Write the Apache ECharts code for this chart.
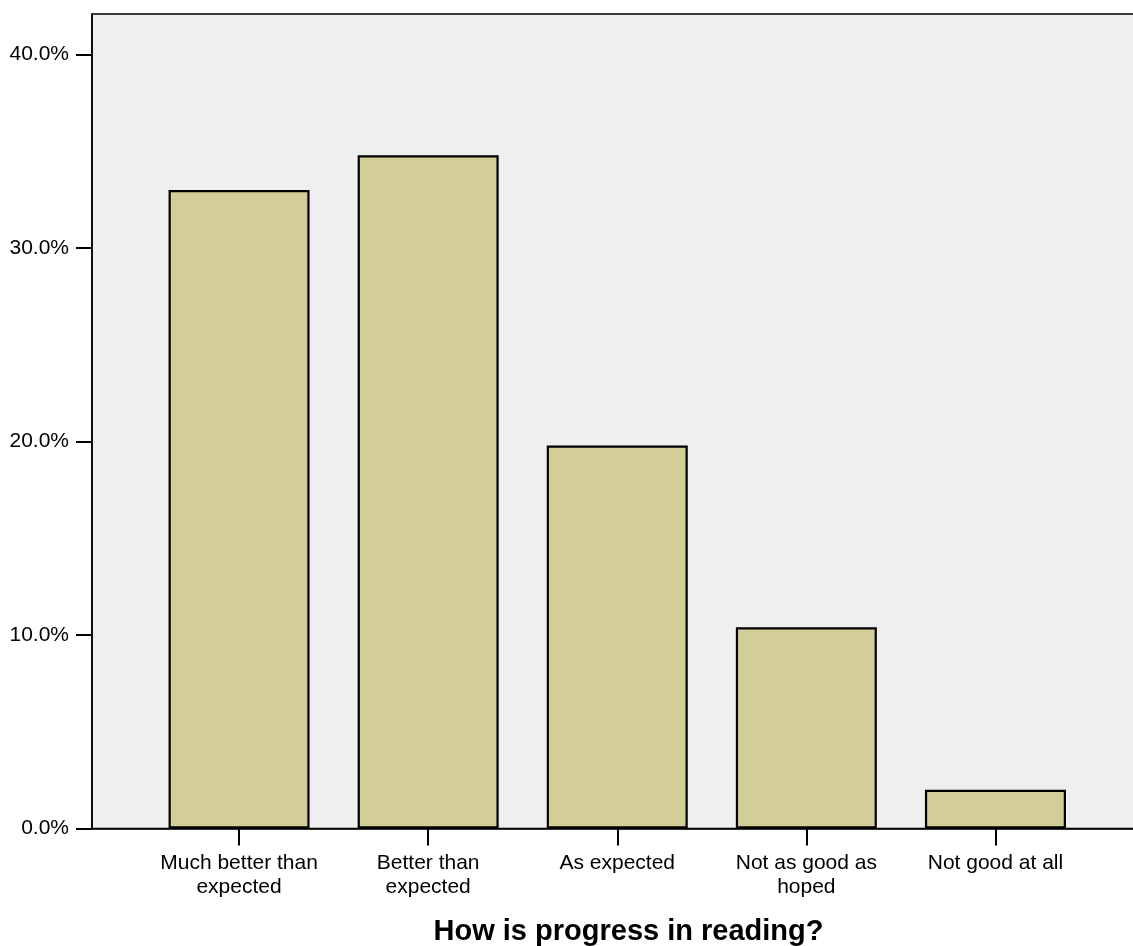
<!DOCTYPE html>
<html>
<head>
<meta charset="utf-8">
<script src="https://cdn.jsdelivr.net/npm/echarts@6/dist/echarts.min.js"></script>
<style>
html,body{margin:0;padding:0;background:#fff;}
#chart{width:1133px;height:946px;}
</style>
</head>
<body>
<div id="chart"></div>
<script>
const categories = ['Much better than\nexpected', 'Better than\nexpected', 'As expected', 'Not as good as\nhoped', 'Not good at all'];
const percentages = [33.0, 34.8, 19.8, 10.4, 2.0];
const yMax = 42.1;
const yInterval = 10;
const axisTitle = 'How is progress in reading?';

const FONT = "'Liberation Sans', Arial, sans-serif";
const chart = echarts.init(document.getElementById('chart'));
chart.setOption({
  backgroundColor: '#ffffff',
  animation: false,
  grid: [
    { left: 92, width: 1073, top: 14, bottom: 117.5, show: true, backgroundColor: '#efefef', borderColor: '#000', borderWidth: 1.5, containLabel: false, outerBoundsMode: 'none' },
    { left: 144.5, right: 43, top: 14, bottom: 117.5, containLabel: false, outerBoundsMode: 'none' }
  ],
  xAxis: [
    { gridIndex: 0, type: 'value', min: 0, max: 1,
      axisLine: { show: true, lineStyle: { color: '#000', width: 1.5 } },
      axisTick: { show: false }, axisLabel: { show: false }, splitLine: { show: false },
      name: axisTitle, nameLocation: 'middle', nameGap: 89,
      nameTextStyle: { fontFamily: FONT, fontSize: 29, fontWeight: 'bold', color: '#000' } },
    { gridIndex: 1, type: 'category', data: categories,
      axisLine: { show: false },
      axisTick: { show: true, alignWithLabel: true, length: 17, lineStyle: { color: '#000', width: 2 } },
      axisLabel: { fontFamily: FONT, fontSize: 21, lineHeight: 24, color: '#000', margin: 23, interval: 0 },
      splitLine: { show: false } }
  ],
  yAxis: [
    { gridIndex: 0, type: 'value', min: 0, max: yMax, interval: yInterval,
      axisLine: { show: true, lineStyle: { color: '#000', width: 1.5 } },
      axisTick: { show: true, length: 16, lineStyle: { color: '#000', width: 2 } },
      axisLabel: { fontFamily: FONT, fontSize: 21, color: '#000', margin: 23,
        formatter: v => v.toFixed(1) + '%', showMaxLabel: false },
      splitLine: { show: false } },
    { gridIndex: 1, type: 'value', min: 0, max: yMax, show: false }
  ],
  series: [{
    type: 'bar', xAxisIndex: 1, yAxisIndex: 1,
    data: percentages, barWidth: 141,
    itemStyle: { color: '#d3ce98', borderColor: '#000', borderWidth: 2.2 }
  }]
});
</script>
</body>
</html>
